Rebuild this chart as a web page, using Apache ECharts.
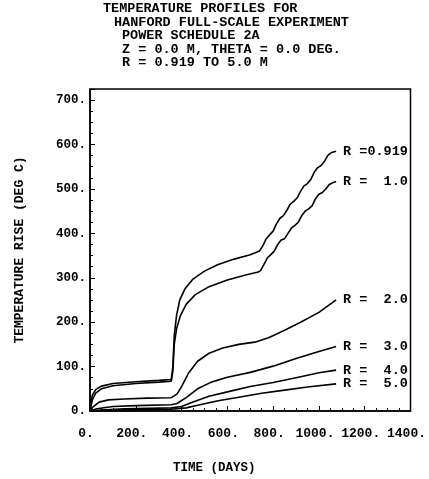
<!DOCTYPE html>
<html>
<head>
<meta charset="utf-8">
<script src="https://cdn.jsdelivr.net/npm/echarts@6/dist/echarts.min.js"></script>
<style>
  html, body { margin: 0; padding: 0; background: #fff; }
  #chart { width: 429px; height: 479px; }
</style>
</head>
<body>
<div id="chart"></div>
<script>
// title lines of the plot
var titleLines = [
  'TEMPERATURE PROFILES FOR',
  'HANFORD FULL-SCALE EXPERIMENT',
  'POWER SCHEDULE 2A',
  'Z = 0.0 M, THETA = 0.0 DEG.',
  'R = 0.919 TO 5.0 M'
];

// [day, temperature rise]
var r0919 = [[0,0],[10,35],[25,48],[50,56],[100,62],[200,66],[300,69],[355,71],[362,100],[368,170],[378,215],[392,250],[415,275],[450,297],[500,315],[560,330],[630,342],[700,352],[725,357],[740,360],[755,372],[770,388],[785,397],[800,405],[815,422],[830,434],[845,440],[860,452],[875,466],[890,472],[905,480],[920,495],[935,507],[950,512],[965,522],[980,538],[995,548],[1010,553],[1025,563],[1040,576],[1055,582],[1075,585]];
var r10 = [[0,0],[10,25],[25,40],[50,50],[100,57],[200,62],[300,65],[355,67],[362,90],[368,150],[378,185],[395,215],[420,240],[460,262],[520,280],[600,295],[680,306],[735,313],[745,316],[760,330],[775,345],[790,352],[805,360],[820,375],[835,385],[850,388],[865,400],[880,412],[895,418],[910,425],[925,440],[940,450],[955,455],[970,462],[985,478],[1000,488],[1015,492],[1030,500],[1045,510],[1060,514],[1075,517]];
var r20 = [[0,0],[15,10],[40,20],[80,25],[150,27],[250,29],[355,30],[380,38],[400,55],[430,85],[470,112],[520,130],[580,142],[650,150],[720,155],[780,165],[850,182],[920,200],[1000,222],[1075,250]];
var r30 = [[0,0],[30,5],[100,10],[200,12],[355,14],[380,17],[420,30],[470,50],[530,65],[600,76],[700,87],[800,101],[900,118],[1000,134],[1075,145]];
var r40 = [[0,0],[50,2],[150,5],[355,7],[400,10],[450,20],[520,33],[600,43],[700,55],[800,64],[900,75],[1000,86],[1075,92]];
var r50 = [[0,0],[100,2],[355,4],[420,7],[480,14],[560,23],[650,31],[750,40],[850,47],[950,54],[1075,61]];

var seriesNames = ['R =0.919', 'R =  1.0', 'R =  2.0', 'R =  3.0', 'R =  4.0', 'R =  5.0'];
var seriesData = [r0919, r10, r20, r30, r40, r50];

var FONT = 'Liberation Mono';
var chart = echarts.init(document.getElementById('chart'));

var series = seriesData.map(function (d, i) {
  return {
    name: seriesNames[i],
    type: 'line',
    data: d,
    showSymbol: false,
    symbol: 'none',
    lineStyle: { color: '#000', width: 1.6 },
    endLabel: {
      show: true,
      formatter: seriesNames[i],
      color: '#000',
      fontFamily: FONT,
      fontWeight: 'bold',
      fontSize: 13.5,
      distance: 7
    },
    animation: false
  };
});

var option = {
  backgroundColor: '#fff',
  animation: false,
  grid: {
    left: 90, right: 13, top: 89, bottom: 68,
    show: true, borderColor: '#000', borderWidth: 1.5
  },
  xAxis: {
    type: 'value',
    min: 0, max: 1400, interval: 200,
    name: 'TIME (DAYS)',
    nameLocation: 'middle',
    nameGap: 50,
    nameTextStyle: { color: '#000', fontFamily: FONT, fontWeight: 'bold', fontSize: 12.5, padding: [0, 72, 0, 0] },
    axisLine: { lineStyle: { color: '#000', width: 1.5 } },
    axisTick: { inside: true, length: 5, lineStyle: { color: '#000' } },
    minorTick: { show: true, splitNumber: 4, length: 3, lineStyle: { color: '#000' } },
    splitLine: { show: false },
    axisLabel: {
      color: '#000', fontFamily: FONT, fontWeight: 'bold', fontSize: 13, margin: 16,
      padding: [0, 8, 0, 0],
      formatter: function (v) { return v + '.'; }
    }
  },
  yAxis: {
    type: 'value',
    min: 0, max: 725, interval: 100,
    name: 'TEMPERATURE RISE (DEG C)',
    nameLocation: 'middle',
    nameGap: 64,
    nameRotate: 90,
    nameTextStyle: { color: '#000', fontFamily: FONT, fontWeight: 'bold', fontSize: 13 },
    axisLine: { lineStyle: { color: '#000', width: 1.5 } },
    axisTick: { inside: true, length: 5, lineStyle: { color: '#000' } },
    minorTick: { show: true, splitNumber: 4, length: 3, lineStyle: { color: '#000' } },
    splitLine: { show: false },
    axisLabel: {
      color: '#000', fontFamily: FONT, fontWeight: 'bold', fontSize: 12.5, margin: 4,
      formatter: function (v) { return v % 100 === 0 ? v + '.' : ''; }
    }
  },
  graphic: titleLines.map(function (t, i) {
    var xs = [103, 114, 122, 122, 122];
    return {
      type: 'text',
      left: xs[i],
      top: 2 + i * 13.5,
      style: { text: t, fill: '#000', font: 'bold 13.5px "' + FONT + '"' }
    };
  }),
  series: series
};

chart.setOption(option);
</script>
</body>
</html>
